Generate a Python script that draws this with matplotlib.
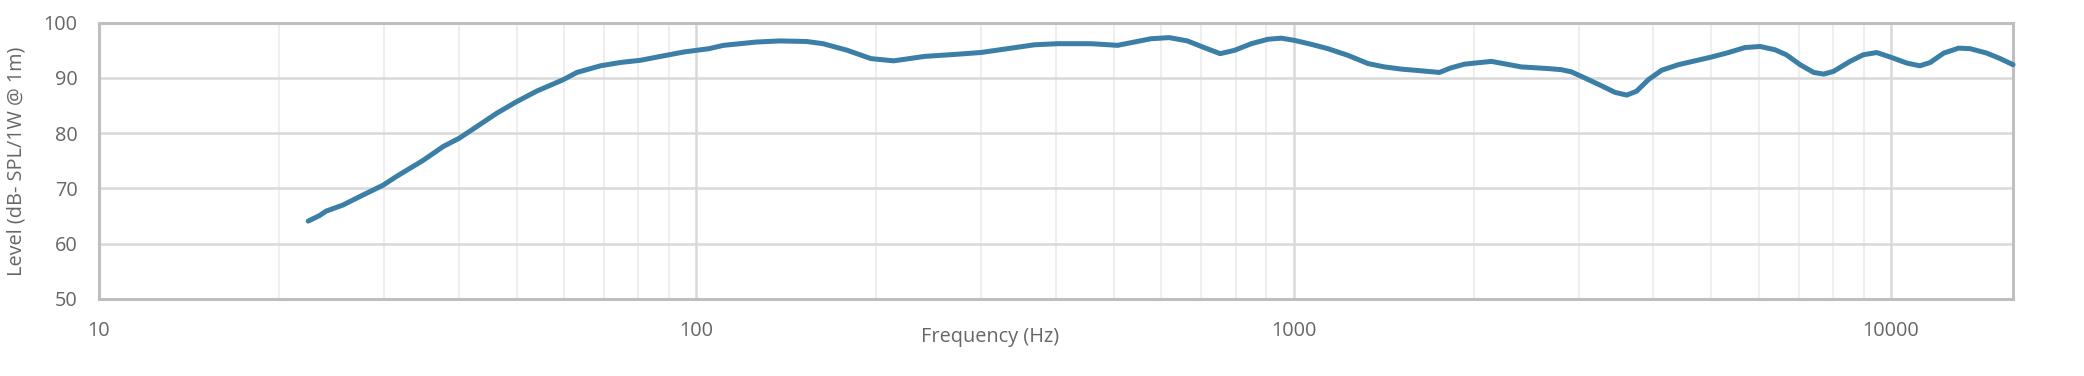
import matplotlib
matplotlib.use("Agg")
import matplotlib.pyplot as plt
from matplotlib.ticker import FixedLocator, NullFormatter, FixedFormatter

freq_hz = [22.4, 23.4, 24.0, 25.6, 27.4, 29.9, 31.5, 34.9, 37.7, 40.1, 42.9, 46.3,
           50.0, 54.0, 59.9, 63.1, 69.1, 74.6, 80.6, 87.1, 95.3, 105, 111, 126, 138,
           153, 163, 179, 196, 214, 241, 274, 299, 332, 368, 402, 457, 475, 507, 541,
           577, 619, 664, 708, 753, 796, 849, 905, 953, 1003, 1069, 1141, 1232, 1332,
           1419, 1514, 1593, 1754, 1830, 1932, 2142, 2404, 2666, 2806, 2917, 3071,
           3273, 3449, 3609, 3750, 3925, 4131, 4404, 4697, 5010, 5343, 5694, 6034,
           6393, 6677, 7043, 7420, 7713, 8012, 8537, 8986, 9460, 9960, 10620, 11170,
           11630, 12250, 12980, 13560, 14460, 15230, 16000]
level_db = [64.1, 65.1, 65.9, 67.0, 68.6, 70.6, 72.2, 75.1, 77.6, 79.1, 81.2, 83.6,
            85.7, 87.6, 89.7, 91.0, 92.2, 92.8, 93.2, 93.9, 94.7, 95.3, 95.9, 96.5, 96.7,
            96.6, 96.2, 95.0, 93.5, 93.1, 93.9, 94.3, 94.6, 95.3, 96.0, 96.2, 96.2, 96.1,
            95.9, 96.5, 97.1, 97.3, 96.7, 95.5, 94.4, 95.0, 96.2, 97.0, 97.2, 96.8, 96.1,
            95.3, 94.1, 92.6, 92.0, 91.6, 91.4, 91.0, 91.8, 92.5, 93.0, 92.0, 91.7, 91.5,
            91.1, 90.0, 88.6, 87.4, 86.9, 87.6, 89.7, 91.4, 92.4, 93.1, 93.8, 94.6, 95.5,
            95.7, 95.1, 94.2, 92.4, 91.0, 90.7, 91.2, 93.0, 94.2, 94.6, 93.8, 92.7, 92.2,
            92.8, 94.5, 95.4, 95.3, 94.5, 93.5, 92.4]

x_ticks = [10, 100, 1000, 10000]
x_tick_labels = ["10", "100", "1000", "10000"]
y_ticks = [50, 60, 70, 80, 90, 100]
x_label = "Frequency (Hz)"
y_label = "Level (dB- SPL/1W @ 1m)"

plt.rcParams['font.family'] = ['Open Sans', 'DejaVu Sans']
TXT = '#666666'
FS = 14.3

W, H = 2084, 376
fig = plt.figure(figsize=(W / 100, H / 100), dpi=100)
L, R, T, B = 99, 2013, 22.7, 299
ax = fig.add_axes([L / W, 1 - B / H, (R - L) / W, (B - T) / H])

ax.set_xscale('log')
ax.set_xlim(10, 16000)
ax.set_ylim(50, 100)

minor = [m * 10 ** e for e in range(1, 5) for m in range(2, 10) if m * 10 ** e < 16000]
ax.xaxis.set_major_locator(FixedLocator(x_ticks))
ax.xaxis.set_major_formatter(FixedFormatter(x_tick_labels))
ax.xaxis.set_minor_locator(FixedLocator(minor))
ax.xaxis.set_minor_formatter(NullFormatter())
ax.set_yticks(y_ticks)

ax.grid(which='minor', axis='x', color='#eeeeee', linewidth=1.5, zorder=0)
ax.grid(which='major', axis='x', color='#d9d9d9', linewidth=1.8, zorder=0)
ax.grid(which='major', axis='y', color='#d9d9d9', linewidth=1.8, zorder=0)
ax.set_axisbelow(True)

for s in ax.spines.values():
    s.set_color('#bfbfbf')
    s.set_linewidth(2.2)

ax.tick_params(axis='both', which='both', length=0, labelsize=FS, labelcolor=TXT)
ax.tick_params(axis='y', pad=15.5)
ax.tick_params(axis='x', pad=16)

ax.plot(freq_hz, level_db, color='#3b7ea6', linewidth=3.6,
        solid_capstyle='round', solid_joinstyle='round', zorder=3, clip_on=False)

fig.text(990 / W, 1 - 337 / H, x_label, ha='center', va='center', fontsize=FS, color=TXT)
fig.text(17 / W, 1 - 161 / H, y_label, ha='center', va='center', rotation=90,
         fontsize=FS, color=TXT)

fig.savefig('out.png', dpi=100, facecolor='white')
